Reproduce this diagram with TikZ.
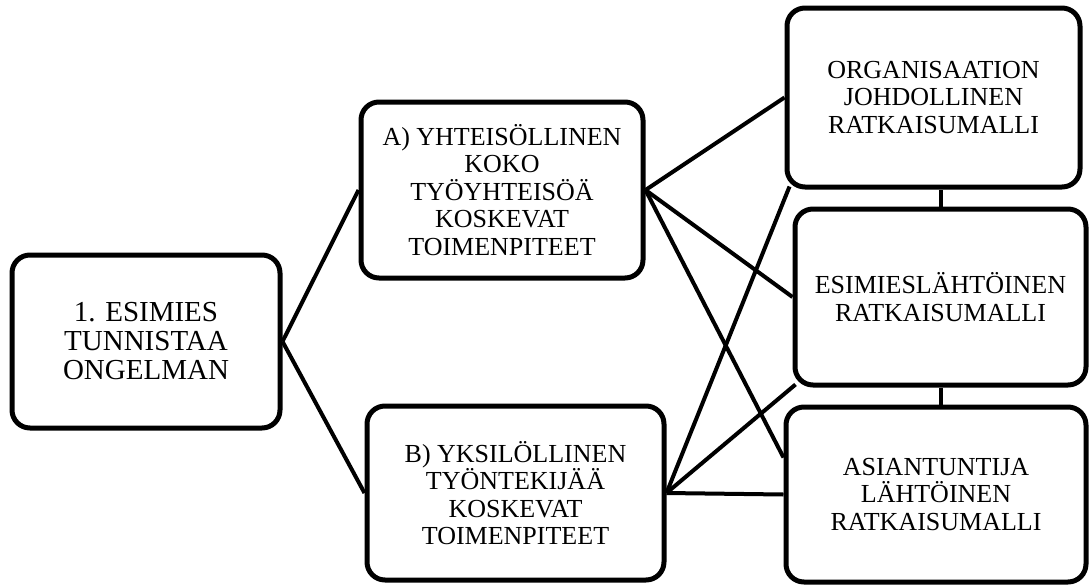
\documentclass[tikz,border=0pt]{standalone}
\usepackage{fontspec}
\setmainfont{Liberation Serif}
\usetikzlibrary{calc}

\tikzset{
  stagebox/.style={draw=black, line width=5pt, rounded corners=18pt, fill=white,
    align=center, inner sep=0pt, font=\fontsize{26}{27.5}\selectfont},
  startbox/.style={stagebox, font=\fontsize{29}{29}\selectfont},
  link/.style={draw=black, line width=4pt}
}

\begin{document}
\begin{tikzpicture}[x=1pt, y=-1pt]
  \useasboundingbox (0,0) rectangle (1090,584);

  % starting point
  \node[startbox, minimum width=268pt, minimum height=173pt] (L) at (146,341.5)
    {1. ESIMIES\\TUNNISTAA\\ONGELMAN};

  % two kinds of measures
  \node[stagebox, minimum width=282pt, minimum height=176pt] (A) at (502,190)
    {A) YHTEISÖLLINEN\\KOKO\\TYÖYHTEISÖÄ\\KOSKEVAT\\TOIMENPITEET};
  \node[stagebox, minimum width=297pt, minimum height=174pt] (B) at (515.5,493)
    {B) YKSILÖLLINEN\\TYÖNTEKIJÄÄ\\KOSKEVAT\\TOIMENPITEET};

  % solution models
  \node[stagebox, minimum width=293pt, minimum height=179pt] (TR) at (933.5,97.5)
    {ORGANISAATION\\JOHDOLLINEN\\RATKAISUMALLI};
  \node[stagebox, minimum width=291pt, minimum height=176pt] (MR) at (940.5,297)
    {ESIMIESLÄHTÖINEN\\RATKAISUMALLI};
  \node[stagebox, minimum width=300pt, minimum height=175pt] (BR) at (936,494.5)
    {ASIANTUNTIJA\\LÄHTÖINEN\\RATKAISUMALLI};

  % connectors
  \draw[link] (L.east) -- (A.west);
  \draw[link] (L.east) -- (B.west);

  \draw[link] (A.east) -- (TR.west);
  \draw[link] (A.east) -- (MR.west);
  \draw[link] (A.east) -- ([yshift=37pt]BR.west);

  \draw[link] (B.east) -- ([xshift=5pt,yshift=3pt]TR.south west);
  \draw[link] (B.east) -- ([xshift=3pt,yshift=3pt]MR.south west);
  \draw[link] (B.east) -- (BR.west);

  \draw[link] (MR.north) -- (MR.north |- TR.south);
  \draw[link] (MR.south) -- (MR.south |- BR.north);
\end{tikzpicture}
\end{document}
